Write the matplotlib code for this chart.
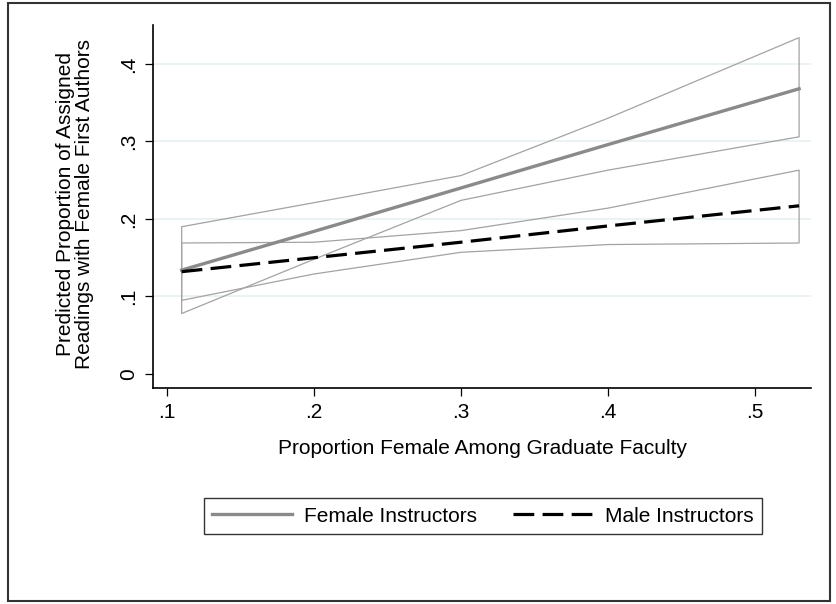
import matplotlib
matplotlib.use("Agg")
import matplotlib.pyplot as plt
from matplotlib.patches import Rectangle

plt.rcParams['font.family'] = ['Liberation Sans', 'DejaVu Sans']

# predicted proportions (with 95% CI) at selected values of the x variable
x_vals = [0.11, 0.20, 0.30, 0.40, 0.53]
female_fit = [0.134, 0.184, 0.240, 0.296, 0.368]
female_hi = [0.190, 0.221, 0.256, 0.330, 0.434]
female_lo = [0.078, 0.148, 0.224, 0.263, 0.306]
male_fit = [0.132, 0.150, 0.170, 0.191, 0.217]
male_hi = [0.169, 0.170, 0.185, 0.214, 0.263]
male_lo = [0.095, 0.129, 0.157, 0.167, 0.169]

xticks = [0.1, 0.2, 0.3, 0.4, 0.5]
xticklabels = ['.1', '.2', '.3', '.4', '.5']
yticks = [0, 0.1, 0.2, 0.3, 0.4]
yticklabels = ['0', '.1', '.2', '.3', '.4']

fs = 15
W, H = 837, 604
fig = plt.figure(figsize=(W / 100, H / 100), dpi=100)
ax = fig.add_axes([153 / W, 1 - 388 / H, (811 - 153) / W, (388 - 25) / H])

# light horizontal grid
for v in yticks[1:]:
    ax.axhline(v, color='#e6eff1', lw=1.1, zorder=0)

# confidence bands drawn as outlines only
ax.fill_between(x_vals, female_lo, female_hi, facecolor='none',
                edgecolor='#a3a3a3', lw=0.9, zorder=2)
ax.fill_between(x_vals, male_lo, male_hi, facecolor='none',
                edgecolor='#a3a3a3', lw=0.9, zorder=2)

ax.plot(x_vals, female_fit, color='#8a8a8a', lw=2.4, zorder=3,
        label='Female Instructors')
ax.plot(x_vals, male_fit, color='black', lw=2.3, dashes=(6.5, 2.6), zorder=4,
        label='Male Instructors')

ax.set_xlim(0.0905, 0.5381)
ax.set_ylim(-0.0181, 0.4503)
ax.set_xticks(xticks)
ax.set_xticklabels(xticklabels)
ax.set_yticks(yticks)
ax.set_yticklabels(yticklabels, rotation=90, va='center')
ax.tick_params(axis='both', direction='out', length=5.5, width=0.9,
               labelsize=fs, pad=5)

for s in ['top', 'right']:
    ax.spines[s].set_visible(False)
for s in ['left', 'bottom']:
    ax.spines[s].set_linewidth(1.2)

ax.set_xlabel('Proportion Female Among Graduate Faculty', fontsize=fs)
ax.xaxis.set_label_coords(0.5, -0.14)
ax.set_ylabel('Predicted Proportion of Assigned\nReadings with Female First Authors',
              fontsize=fs, linespacing=1.0)
ax.yaxis.set_label_coords(-0.09, 0.507)

leg = fig.legend(loc='center', bbox_to_anchor=(483 / W, 1 - 516 / H), ncol=2,
                 fontsize=fs, frameon=True, fancybox=False, edgecolor='black',
                 handlelength=3.8, handletextpad=0.62, columnspacing=1.7,
                 borderpad=0.4)
leg.get_frame().set_linewidth(1.0)

# outer frame around the whole graph
fig.patches.append(Rectangle((8 / W, 1 - 601 / H), (830 - 8) / W, (601 - 3) / H,
                             transform=fig.transFigure, fill=False,
                             edgecolor='#333333', lw=1.5))

fig.savefig('out.png', dpi=100)
